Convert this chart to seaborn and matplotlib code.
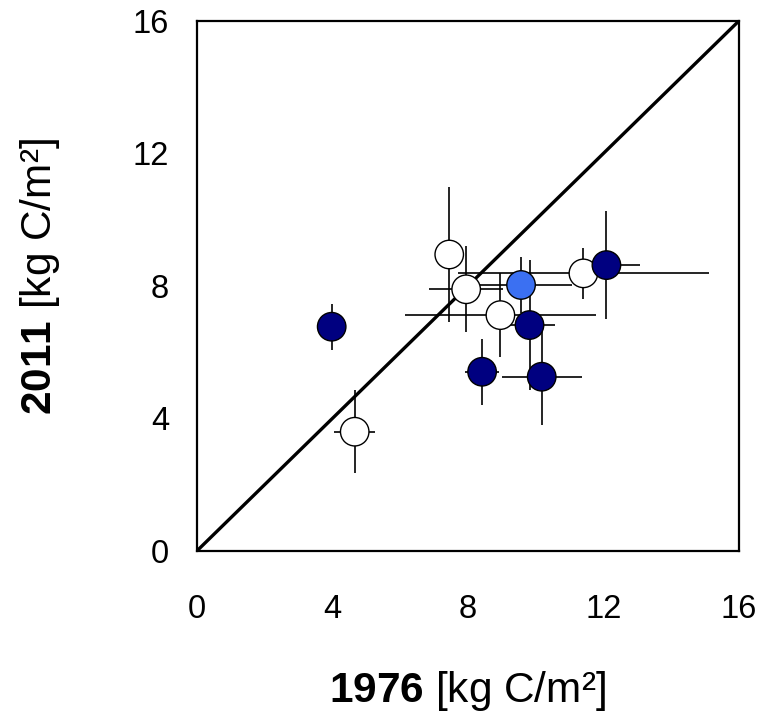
import pandas as pd
import matplotlib
matplotlib.use("Agg")
import matplotlib.pyplot as plt
import seaborn as sns

# values (kg C/m2)
x_1976 = [7.45, 7.95, 11.41, 8.96, 4.66, 12.09, 9.82, 10.18, 8.42, 3.98, 9.57]
y_2011 = [8.95, 7.90, 8.38, 7.12, 3.60, 8.63, 6.82, 5.26, 5.41, 6.77, 8.03]
x_err = [0.3, 1.1, 3.7, 2.83, 0.6, 1.0, 0.75, 1.18, 0.5, 0.3, 1.5]
y_err = [2.05, 1.3, 0.76, 1.27, 1.25, 1.62, 1.96, 1.46, 1.0, 0.7, 0.85]
group = ["open", "open", "open", "open", "open",
         "dark", "dark", "dark", "dark", "dark", "light"]

ticks = [0, 4, 8, 12, 16]

df = pd.DataFrame({"x": x_1976, "y": y_2011, "xerr": x_err, "yerr": y_err, "group": group})

sns.set_style("white")
plt.rcParams["font.family"] = ["Liberation Sans", "DejaVu Sans"]
plt.rcParams["mathtext.fontset"] = "custom"
plt.rcParams["mathtext.rm"] = "Liberation Sans"
plt.rcParams["mathtext.bf"] = "Liberation Sans:bold"
plt.rcParams["text.color"] = "black"
plt.rcParams["axes.labelcolor"] = "black"
plt.rcParams["xtick.color"] = "black"
plt.rcParams["ytick.color"] = "black"

fig = plt.figure(figsize=(7.75, 7.15), dpi=100)
ax = fig.add_axes([0.254, 0.2294, 0.6994, 0.7413])

# 1:1 line
ax.plot([0, 16], [0, 16], color="black", lw=2.4, zorder=1)

ax.errorbar(df["x"], df["y"], xerr=df["xerr"], yerr=df["yerr"], fmt="none",
            ecolor="black", elinewidth=1.2, capsize=0, zorder=2)

sns.scatterplot(data=df, x="x", y="y", hue="group",
                palette={"open": "white", "dark": "#000080", "light": "#3b70f2"},
                s=420, edgecolor="black", linewidth=1.0, legend=False, ax=ax, zorder=3)

ax.set_xlim(0, 16)
ax.set_ylim(0, 16)
ax.set_xticks(ticks)
ax.set_yticks(ticks)
ax.tick_params(direction="in", length=6, width=1.5, labelsize=23.5)
ax.tick_params(axis="x", pad=31)
ax.tick_params(axis="y", pad=20)
for sp in ax.spines.values():
    sp.set_color("black")
    sp.set_linewidth(1.6)

ax.set_xlabel(r"$\mathbf{1976}$ [kg C/m²]", fontsize=30.5)
ax.set_ylabel(r"$\mathbf{2011}$ [kg C/m²]", fontsize=30.5)
ax.xaxis.set_label_coords(0.5, -0.222)
ax.yaxis.set_label_coords(-0.249, 0.517)

fig.savefig("out.png", dpi=100)
